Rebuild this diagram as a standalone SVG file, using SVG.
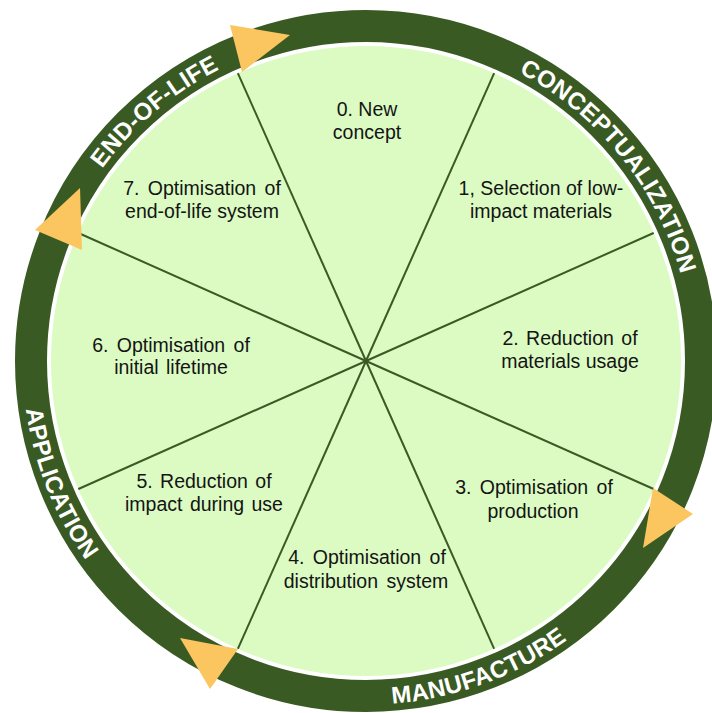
<svg xmlns="http://www.w3.org/2000/svg" xmlns:xlink="http://www.w3.org/1999/xlink" width="712" height="713" viewBox="0 0 712 713">
  <style>
    .lbl { font-family: "Liberation Sans", Arial, sans-serif; font-size: 19.5px; fill: #141414; text-anchor: middle; }
    .ring-txt { font-family: "Liberation Sans", Arial, sans-serif; font-size: 24px; font-weight: bold; fill: #ffffff; letter-spacing: 0.3px; }
    .spoke { stroke: #3a5a24; stroke-width: 2; fill: none; }
    .tri { fill: #fbc55f; }
  </style>
  <defs>
    <path id="cwPath" d="M 39.6 361 A 326.4 326.4 0 1 1 692.4 361 A 326.4 326.4 0 1 1 39.6 361"/>
    <path id="ccwPath" d="M 22.4 361 A 343.6 343.6 0 1 0 709.6 361 A 343.6 343.6 0 1 0 22.4 361"/>
  </defs>
  <rect width="712" height="713" fill="#ffffff"/>

  <g id="disc">
    <circle cx="366" cy="361" r="317" fill="#dbfbc3"/>
  </g>

  <g id="connectors">
    <line class="spoke" x1="366" y1="361" x2="654.7" y2="489.5"/>
    <line class="spoke" x1="366" y1="361" x2="494.5" y2="649.7"/>
    <line class="spoke" x1="366" y1="361" x2="237.5" y2="649.7"/>
    <line class="spoke" x1="366" y1="361" x2="77.3" y2="489.5"/>
    <line class="spoke" x1="366" y1="361" x2="77.3" y2="232.5"/>
    <line class="spoke" x1="366" y1="361" x2="237.5" y2="72.3"/>
    <line class="spoke" x1="366" y1="361" x2="494.5" y2="72.3"/>
    <line class="spoke" x1="366" y1="361" x2="654.7" y2="232.5"/>
  </g>

  <g id="ring">
    <circle cx="366" cy="361" r="317" fill="none" stroke="#ffffff" stroke-width="4"/>
    <circle cx="366" cy="361" r="335" fill="none" stroke="#3a5a24" stroke-width="32"/>
    <text class="ring-txt"><textPath xlink:href="#cwPath" href="#cwPath" startOffset="283.1" text-anchor="middle">END-OF-LIFE</textPath></text>
    <text class="ring-txt"><textPath xlink:href="#cwPath" href="#cwPath" startOffset="804.4" text-anchor="middle">CONCEPTUALIZATION</textPath></text>
    <text class="ring-txt"><textPath xlink:href="#ccwPath" href="#ccwPath" startOffset="660.3" text-anchor="middle">MANUFACTURE</textPath></text>
    <text class="ring-txt"><textPath xlink:href="#ccwPath" href="#ccwPath" startOffset="130.7" text-anchor="middle">APPLICATION</textPath></text>
  </g>

  <g id="arrows">
    <polygon class="tri" points="230,25 290,35 242,72"/>
    <polygon class="tri" points="80,188 35,230 82,250"/>
    <polygon class="tri" points="653,488 693,514 643,548"/>
    <polygon class="tri" points="180,638 238,649 210,689"/>
  </g>

  <g id="step0"><text class="lbl"><tspan x="367" y="116">0. New</tspan><tspan x="367" y="139">concept</tspan></text></g>
  <g id="step1"><text class="lbl"><tspan x="541" y="195">1, Selection of low-</tspan><tspan x="541" y="218">impact materials</tspan></text></g>
  <g id="step2"><text class="lbl"><tspan x="570" y="345" word-spacing="2">2. Reduction of</tspan><tspan x="570" y="368">materials usage</tspan></text></g>
  <g id="step3"><text class="lbl"><tspan x="534" y="494" word-spacing="3">3. Optimisation of</tspan><tspan x="533" y="518">production</tspan></text></g>
  <g id="step4"><text class="lbl"><tspan x="367" y="564" word-spacing="3">4. Optimisation of</tspan><tspan x="366" y="588" word-spacing="3">distribution system</tspan></text></g>
  <g id="step5"><text class="lbl"><tspan x="204" y="488" word-spacing="2">5. Reduction of</tspan><tspan x="204" y="511" word-spacing="2">impact during use</tspan></text></g>
  <g id="step6"><text class="lbl"><tspan x="171" y="352" word-spacing="3">6. Optimisation of</tspan><tspan x="171" y="374" word-spacing="2">initial lifetime</tspan></text></g>
  <g id="step7"><text class="lbl"><tspan x="202" y="195" word-spacing="3">7. Optimisation of</tspan><tspan x="202" y="218">end-of-life system</tspan></text></g>
</svg>
